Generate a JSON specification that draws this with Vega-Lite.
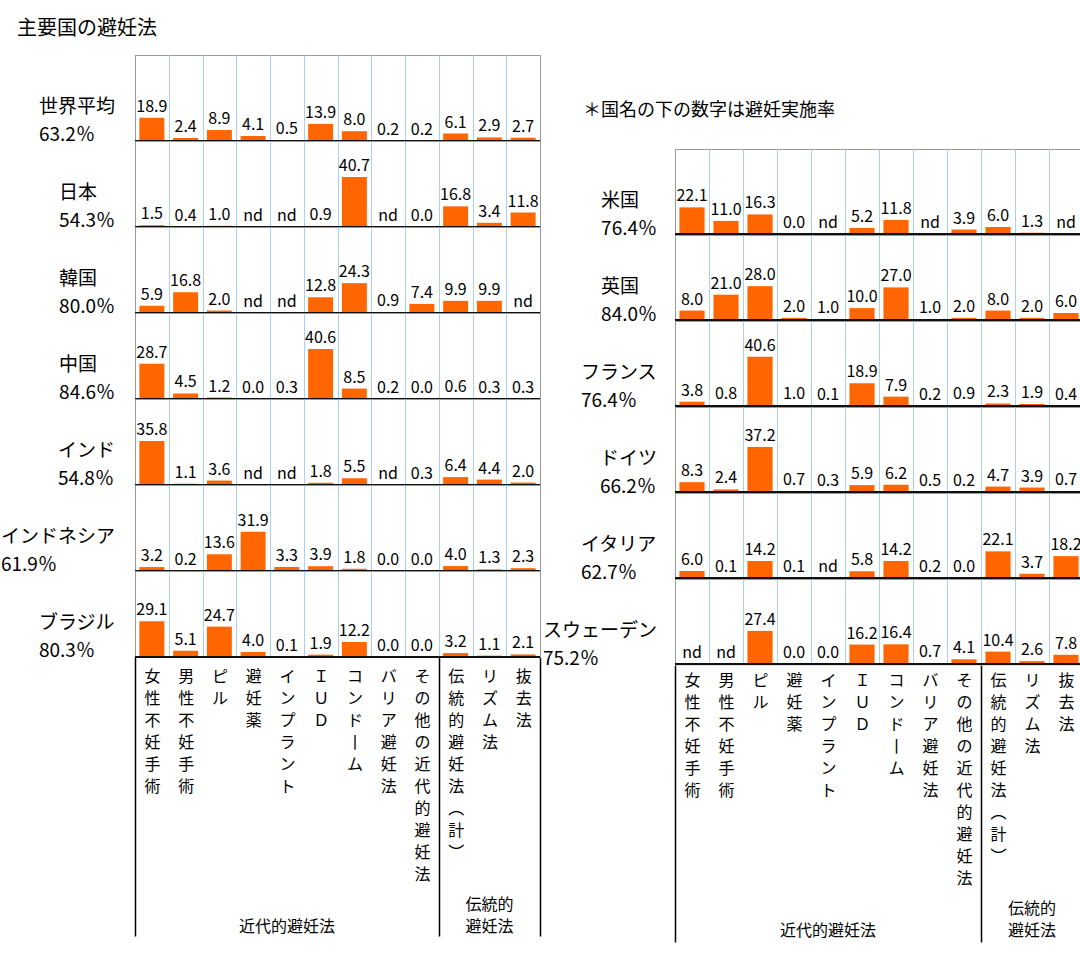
{
  "$schema": "https://vega.github.io/schema/vega-lite/v6.json",
  "padding": {"left": 0, "top": 18, "right": 0, "bottom": 0},
  "title": {"text": "主要国の避妊法", "anchor": "start", "fontSize": 20, "fontWeight": "normal", "offset": 16, "dx": 16, "color": "#000"},
  "datasets": {
    "left": [
      {"c":"世界平均","r":63.2,"m":"女性不妊手術","v":18.9},
      {"c":"世界平均","r":63.2,"m":"男性不妊手術","v":2.4},
      {"c":"世界平均","r":63.2,"m":"ピル","v":8.9},
      {"c":"世界平均","r":63.2,"m":"避妊薬","v":4.1},
      {"c":"世界平均","r":63.2,"m":"インプラント","v":0.5},
      {"c":"世界平均","r":63.2,"m":"ＩＵＤ","v":13.9},
      {"c":"世界平均","r":63.2,"m":"コンドーム","v":8.0},
      {"c":"世界平均","r":63.2,"m":"バリア避妊法","v":0.2},
      {"c":"世界平均","r":63.2,"m":"その他の近代的避妊法","v":0.2},
      {"c":"世界平均","r":63.2,"m":"伝統的避妊法（計）","v":6.1},
      {"c":"世界平均","r":63.2,"m":"リズム法","v":2.9},
      {"c":"世界平均","r":63.2,"m":"抜去法","v":2.7},
      {"c":"日本","r":54.3,"m":"女性不妊手術","v":1.5},
      {"c":"日本","r":54.3,"m":"男性不妊手術","v":0.4},
      {"c":"日本","r":54.3,"m":"ピル","v":1.0},
      {"c":"日本","r":54.3,"m":"避妊薬","v":null},
      {"c":"日本","r":54.3,"m":"インプラント","v":null},
      {"c":"日本","r":54.3,"m":"ＩＵＤ","v":0.9},
      {"c":"日本","r":54.3,"m":"コンドーム","v":40.7},
      {"c":"日本","r":54.3,"m":"バリア避妊法","v":null},
      {"c":"日本","r":54.3,"m":"その他の近代的避妊法","v":0.0},
      {"c":"日本","r":54.3,"m":"伝統的避妊法（計）","v":16.8},
      {"c":"日本","r":54.3,"m":"リズム法","v":3.4},
      {"c":"日本","r":54.3,"m":"抜去法","v":11.8},
      {"c":"韓国","r":80.0,"m":"女性不妊手術","v":5.9},
      {"c":"韓国","r":80.0,"m":"男性不妊手術","v":16.8},
      {"c":"韓国","r":80.0,"m":"ピル","v":2.0},
      {"c":"韓国","r":80.0,"m":"避妊薬","v":null},
      {"c":"韓国","r":80.0,"m":"インプラント","v":null},
      {"c":"韓国","r":80.0,"m":"ＩＵＤ","v":12.8},
      {"c":"韓国","r":80.0,"m":"コンドーム","v":24.3},
      {"c":"韓国","r":80.0,"m":"バリア避妊法","v":0.9},
      {"c":"韓国","r":80.0,"m":"その他の近代的避妊法","v":7.4},
      {"c":"韓国","r":80.0,"m":"伝統的避妊法（計）","v":9.9},
      {"c":"韓国","r":80.0,"m":"リズム法","v":9.9},
      {"c":"韓国","r":80.0,"m":"抜去法","v":null},
      {"c":"中国","r":84.6,"m":"女性不妊手術","v":28.7},
      {"c":"中国","r":84.6,"m":"男性不妊手術","v":4.5},
      {"c":"中国","r":84.6,"m":"ピル","v":1.2},
      {"c":"中国","r":84.6,"m":"避妊薬","v":0.0},
      {"c":"中国","r":84.6,"m":"インプラント","v":0.3},
      {"c":"中国","r":84.6,"m":"ＩＵＤ","v":40.6},
      {"c":"中国","r":84.6,"m":"コンドーム","v":8.5},
      {"c":"中国","r":84.6,"m":"バリア避妊法","v":0.2},
      {"c":"中国","r":84.6,"m":"その他の近代的避妊法","v":0.0},
      {"c":"中国","r":84.6,"m":"伝統的避妊法（計）","v":0.6},
      {"c":"中国","r":84.6,"m":"リズム法","v":0.3},
      {"c":"中国","r":84.6,"m":"抜去法","v":0.3},
      {"c":"インド","r":54.8,"m":"女性不妊手術","v":35.8},
      {"c":"インド","r":54.8,"m":"男性不妊手術","v":1.1},
      {"c":"インド","r":54.8,"m":"ピル","v":3.6},
      {"c":"インド","r":54.8,"m":"避妊薬","v":null},
      {"c":"インド","r":54.8,"m":"インプラント","v":null},
      {"c":"インド","r":54.8,"m":"ＩＵＤ","v":1.8},
      {"c":"インド","r":54.8,"m":"コンドーム","v":5.5},
      {"c":"インド","r":54.8,"m":"バリア避妊法","v":null},
      {"c":"インド","r":54.8,"m":"その他の近代的避妊法","v":0.3},
      {"c":"インド","r":54.8,"m":"伝統的避妊法（計）","v":6.4},
      {"c":"インド","r":54.8,"m":"リズム法","v":4.4},
      {"c":"インド","r":54.8,"m":"抜去法","v":2.0},
      {"c":"インドネシア","r":61.9,"m":"女性不妊手術","v":3.2},
      {"c":"インドネシア","r":61.9,"m":"男性不妊手術","v":0.2},
      {"c":"インドネシア","r":61.9,"m":"ピル","v":13.6},
      {"c":"インドネシア","r":61.9,"m":"避妊薬","v":31.9},
      {"c":"インドネシア","r":61.9,"m":"インプラント","v":3.3},
      {"c":"インドネシア","r":61.9,"m":"ＩＵＤ","v":3.9},
      {"c":"インドネシア","r":61.9,"m":"コンドーム","v":1.8},
      {"c":"インドネシア","r":61.9,"m":"バリア避妊法","v":0.0},
      {"c":"インドネシア","r":61.9,"m":"その他の近代的避妊法","v":0.0},
      {"c":"インドネシア","r":61.9,"m":"伝統的避妊法（計）","v":4.0},
      {"c":"インドネシア","r":61.9,"m":"リズム法","v":1.3},
      {"c":"インドネシア","r":61.9,"m":"抜去法","v":2.3},
      {"c":"ブラジル","r":80.3,"m":"女性不妊手術","v":29.1},
      {"c":"ブラジル","r":80.3,"m":"男性不妊手術","v":5.1},
      {"c":"ブラジル","r":80.3,"m":"ピル","v":24.7},
      {"c":"ブラジル","r":80.3,"m":"避妊薬","v":4.0},
      {"c":"ブラジル","r":80.3,"m":"インプラント","v":0.1},
      {"c":"ブラジル","r":80.3,"m":"ＩＵＤ","v":1.9},
      {"c":"ブラジル","r":80.3,"m":"コンドーム","v":12.2},
      {"c":"ブラジル","r":80.3,"m":"バリア避妊法","v":0.0},
      {"c":"ブラジル","r":80.3,"m":"その他の近代的避妊法","v":0.0},
      {"c":"ブラジル","r":80.3,"m":"伝統的避妊法（計）","v":3.2},
      {"c":"ブラジル","r":80.3,"m":"リズム法","v":1.1},
      {"c":"ブラジル","r":80.3,"m":"抜去法","v":2.1}
    ],
    "right": [
      {"c":"米国","r":76.4,"m":"女性不妊手術","v":22.1},
      {"c":"米国","r":76.4,"m":"男性不妊手術","v":11.0},
      {"c":"米国","r":76.4,"m":"ピル","v":16.3},
      {"c":"米国","r":76.4,"m":"避妊薬","v":0.0},
      {"c":"米国","r":76.4,"m":"インプラント","v":null},
      {"c":"米国","r":76.4,"m":"ＩＵＤ","v":5.2},
      {"c":"米国","r":76.4,"m":"コンドーム","v":11.8},
      {"c":"米国","r":76.4,"m":"バリア避妊法","v":null},
      {"c":"米国","r":76.4,"m":"その他の近代的避妊法","v":3.9},
      {"c":"米国","r":76.4,"m":"伝統的避妊法（計）","v":6.0},
      {"c":"米国","r":76.4,"m":"リズム法","v":1.3},
      {"c":"米国","r":76.4,"m":"抜去法","v":null},
      {"c":"英国","r":84.0,"m":"女性不妊手術","v":8.0},
      {"c":"英国","r":84.0,"m":"男性不妊手術","v":21.0},
      {"c":"英国","r":84.0,"m":"ピル","v":28.0},
      {"c":"英国","r":84.0,"m":"避妊薬","v":2.0},
      {"c":"英国","r":84.0,"m":"インプラント","v":1.0},
      {"c":"英国","r":84.0,"m":"ＩＵＤ","v":10.0},
      {"c":"英国","r":84.0,"m":"コンドーム","v":27.0},
      {"c":"英国","r":84.0,"m":"バリア避妊法","v":1.0},
      {"c":"英国","r":84.0,"m":"その他の近代的避妊法","v":2.0},
      {"c":"英国","r":84.0,"m":"伝統的避妊法（計）","v":8.0},
      {"c":"英国","r":84.0,"m":"リズム法","v":2.0},
      {"c":"英国","r":84.0,"m":"抜去法","v":6.0},
      {"c":"フランス","r":76.4,"m":"女性不妊手術","v":3.8},
      {"c":"フランス","r":76.4,"m":"男性不妊手術","v":0.8},
      {"c":"フランス","r":76.4,"m":"ピル","v":40.6},
      {"c":"フランス","r":76.4,"m":"避妊薬","v":1.0},
      {"c":"フランス","r":76.4,"m":"インプラント","v":0.1},
      {"c":"フランス","r":76.4,"m":"ＩＵＤ","v":18.9},
      {"c":"フランス","r":76.4,"m":"コンドーム","v":7.9},
      {"c":"フランス","r":76.4,"m":"バリア避妊法","v":0.2},
      {"c":"フランス","r":76.4,"m":"その他の近代的避妊法","v":0.9},
      {"c":"フランス","r":76.4,"m":"伝統的避妊法（計）","v":2.3},
      {"c":"フランス","r":76.4,"m":"リズム法","v":1.9},
      {"c":"フランス","r":76.4,"m":"抜去法","v":0.4},
      {"c":"ドイツ","r":66.2,"m":"女性不妊手術","v":8.3},
      {"c":"ドイツ","r":66.2,"m":"男性不妊手術","v":2.4},
      {"c":"ドイツ","r":66.2,"m":"ピル","v":37.2},
      {"c":"ドイツ","r":66.2,"m":"避妊薬","v":0.7},
      {"c":"ドイツ","r":66.2,"m":"インプラント","v":0.3},
      {"c":"ドイツ","r":66.2,"m":"ＩＵＤ","v":5.9},
      {"c":"ドイツ","r":66.2,"m":"コンドーム","v":6.2},
      {"c":"ドイツ","r":66.2,"m":"バリア避妊法","v":0.5},
      {"c":"ドイツ","r":66.2,"m":"その他の近代的避妊法","v":0.2},
      {"c":"ドイツ","r":66.2,"m":"伝統的避妊法（計）","v":4.7},
      {"c":"ドイツ","r":66.2,"m":"リズム法","v":3.9},
      {"c":"ドイツ","r":66.2,"m":"抜去法","v":0.7},
      {"c":"イタリア","r":62.7,"m":"女性不妊手術","v":6.0},
      {"c":"イタリア","r":62.7,"m":"男性不妊手術","v":0.1},
      {"c":"イタリア","r":62.7,"m":"ピル","v":14.2},
      {"c":"イタリア","r":62.7,"m":"避妊薬","v":0.1},
      {"c":"イタリア","r":62.7,"m":"インプラント","v":null},
      {"c":"イタリア","r":62.7,"m":"ＩＵＤ","v":5.8},
      {"c":"イタリア","r":62.7,"m":"コンドーム","v":14.2},
      {"c":"イタリア","r":62.7,"m":"バリア避妊法","v":0.2},
      {"c":"イタリア","r":62.7,"m":"その他の近代的避妊法","v":0.0},
      {"c":"イタリア","r":62.7,"m":"伝統的避妊法（計）","v":22.1},
      {"c":"イタリア","r":62.7,"m":"リズム法","v":3.7},
      {"c":"イタリア","r":62.7,"m":"抜去法","v":18.2},
      {"c":"スウェーデン","r":75.2,"m":"女性不妊手術","v":null},
      {"c":"スウェーデン","r":75.2,"m":"男性不妊手術","v":null},
      {"c":"スウェーデン","r":75.2,"m":"ピル","v":27.4},
      {"c":"スウェーデン","r":75.2,"m":"避妊薬","v":0.0},
      {"c":"スウェーデン","r":75.2,"m":"インプラント","v":0.0},
      {"c":"スウェーデン","r":75.2,"m":"ＩＵＤ","v":16.2},
      {"c":"スウェーデン","r":75.2,"m":"コンドーム","v":16.4},
      {"c":"スウェーデン","r":75.2,"m":"バリア避妊法","v":0.7},
      {"c":"スウェーデン","r":75.2,"m":"その他の近代的避妊法","v":4.1},
      {"c":"スウェーデン","r":75.2,"m":"伝統的避妊法（計）","v":10.4},
      {"c":"スウェーデン","r":75.2,"m":"リズム法","v":2.6},
      {"c":"スウェーデン","r":75.2,"m":"抜去法","v":7.8}
    ]
  },
  "hconcat": [
    {
      "data": {"name": "left"},
      "transform": [{"calculate": "datum.c + '|' + format(datum.r, '.1f') + '％'", "as": "rl"}],
      "facet": {
        "row": {"field": "rl", "type": "nominal", "sort": ["世界平均|63.2％","日本|54.3％","韓国|80.0％","中国|84.6％","インド|54.8％","インドネシア|61.9％","ブラジル|80.3％"],
          "header": {"title": null, "labelExpr": "split(datum.value, '|')", "labelAngle": 0, "labelAlign": "left", "labelAnchor": "middle", "labelBaseline": "top", "labelFontSize": 19, "labelLineHeight": 28, "labelPadding": 20, "labelColor": "#000"}}
      },
      "spacing": 0,
      "bounds": "flush",
      "spec": {
        "width": {"step": 33.75},
        "height": 86,
        "resolve": {"axis": {"x": "independent"}},
        "layer": [
          {
            "mark": {"type": "bar", "color": "#ff6600", "width": {"band": 0.74}},
            "encoding": {
              "x": {"field": "m", "type": "nominal", "sort": ["女性不妊手術","男性不妊手術","ピル","避妊薬","インプラント","ＩＵＤ","コンドーム","バリア避妊法","その他の近代的避妊法","伝統的避妊法（計）","リズム法","抜去法"],
                "scale": {"paddingInner": 0, "paddingOuter": 0},
                "axis": {"title": null, "orient": "bottom", "domain": false, "grid": true,
                  "gridColor": {"condition": {"test": "datum.index === -1 || datum.index === 1", "value": "#999"}, "value": "#a9cff3"}, "gridWidth": 1, "tickBand": "extent", "ticks": true, "tickSize": 279, "tickWidth": 1.5,
                  "tickColor": {"condition": {"test": "datum.index === -1 || datum.index === 1 || datum.value === 'その他の近代的避妊法'", "value": "#000"}, "value": "transparent"},
                  "labelExpr": "split(replace(replace(replace(datum.label, 'ー', '丨'), '（', '︵'), '）', '︶'), '')",
                  "labelAngle": 0, "labelAlign": "center", "labelBaseline": "top", "labelFontSize": 16, "labelLineHeight": 22, "labelPadding": -268, "labelOverlap": false, "labelBound": false, "labelFlush": false, "labelColor": "#000"}},
              "y": {"field": "v", "type": "quantitative", "scale": {"domain": [0, 69.4]}, "axis": null}
            }
          },
          {"mark": {"type": "rule", "color": "#111", "strokeWidth": 1.5}, "encoding": {"y": {"datum": 0}}},
          {
            "transform": [
              {"calculate": "datum.v == null ? 'nd' : format(datum.v, '.1f')", "as": "t"},
              {"calculate": "datum.v == null ? 0 : datum.v", "as": "y0"}
            ],
            "mark": {"type": "text", "baseline": "bottom", "dy": -3, "fontSize": 16, "color": "#000"},
            "encoding": {
              "x": {"field": "m", "type": "nominal", "sort": ["女性不妊手術","男性不妊手術","ピル","避妊薬","インプラント","ＩＵＤ","コンドーム","バリア避妊法","その他の近代的避妊法","伝統的避妊法（計）","リズム法","抜去法"],
                "axis": {"title": null, "orient": "bottom", "domain": false, "grid": false, "ticks": false,
                  "labelExpr": "datum.value === 'インプラント' ? ['　', '近代的避妊法'] : datum.value === 'リズム法' ? ['伝統的', '避妊法'] : ''",
                  "labelAngle": 0, "labelAlign": "center", "labelBaseline": "top", "labelFontSize": 16, "labelLineHeight": 22, "labelPadding": 239, "labelOverlap": false, "labelBound": false, "labelFlush": false, "labelColor": "#000"}},
              "y": {"field": "y0", "type": "quantitative"},
              "text": {"field": "t"}
            }
          }
        ]
      }
    },
    {
      "spacing": 0,
      "vconcat": [
        {
          "data": {"values": [{"note": "＊国名の下の数字は避妊実施率"}]},
          "width": 2,
          "height": 93,
          "view": {"stroke": null},
          "mark": {"type": "text", "align": "left", "baseline": "top", "fontSize": 18, "dx": -93, "color": "#000"},
          "encoding": {"text": {"field": "note"}}
        },
        {
          "data": {"name": "right"},
          "transform": [{"calculate": "datum.c + '|' + format(datum.r, '.1f') + '％'", "as": "rl"}],
          "facet": {
            "row": {"field": "rl", "type": "nominal", "sort": ["米国|76.4％","英国|84.0％","フランス|76.4％","ドイツ|66.2％","イタリア|62.7％","スウェーデン|75.2％"],
              "header": {"title": null, "labelExpr": "split(datum.value, '|')", "labelAngle": 0, "labelAlign": "left", "labelAnchor": "middle", "labelBaseline": "top", "labelFontSize": 19, "labelLineHeight": 28, "labelPadding": 18, "labelColor": "#000"}}
          },
          "spacing": 0,
          "bounds": "flush",
          "spec": {
            "width": {"step": 34},
            "height": 85.3,
            "resolve": {"axis": {"x": "independent"}},
            "layer": [
              {
                "mark": {"type": "bar", "color": "#ff6600", "width": {"band": 0.74}},
                "encoding": {
                  "x": {"field": "m", "type": "nominal", "sort": ["女性不妊手術","男性不妊手術","ピル","避妊薬","インプラント","ＩＵＤ","コンドーム","バリア避妊法","その他の近代的避妊法","伝統的避妊法（計）","リズム法","抜去法"],
                    "scale": {"paddingInner": 0, "paddingOuter": 0},
                    "axis": {"title": null, "orient": "bottom", "domain": false, "grid": true,
                      "gridColor": {"condition": {"test": "datum.index === -1 || datum.index === 1", "value": "#999"}, "value": "#a9cff3"}, "gridWidth": 1, "tickBand": "extent", "ticks": true, "tickSize": 277, "tickWidth": 1.5,
                      "tickColor": {"condition": {"test": "datum.index === -1 || datum.index === 1 || datum.value === 'その他の近代的避妊法'", "value": "#000"}, "value": "transparent"},
                      "labelExpr": "split(replace(replace(replace(datum.label, 'ー', '丨'), '（', '︵'), '）', '︶'), '')",
                      "labelAngle": 0, "labelAlign": "center", "labelBaseline": "top", "labelFontSize": 16, "labelLineHeight": 22, "labelPadding": -270, "labelOverlap": false, "labelBound": false, "labelFlush": false, "labelColor": "#000"}},
                  "y": {"field": "v", "type": "quantitative", "scale": {"domain": [0, 68.5]}, "axis": null}
                }
              },
              {"mark": {"type": "rule", "color": "#111", "strokeWidth": 1.5}, "encoding": {"y": {"datum": 0}}},
              {
                "transform": [
                  {"calculate": "datum.v == null ? 'nd' : format(datum.v, '.1f')", "as": "t"},
                  {"calculate": "datum.v == null ? 0 : datum.v", "as": "y0"}
                ],
                "mark": {"type": "text", "baseline": "bottom", "dy": -3, "fontSize": 16, "color": "#000"},
                "encoding": {
                  "x": {"field": "m", "type": "nominal", "sort": ["女性不妊手術","男性不妊手術","ピル","避妊薬","インプラント","ＩＵＤ","コンドーム","バリア避妊法","その他の近代的避妊法","伝統的避妊法（計）","リズム法","抜去法"],
                    "axis": {"title": null, "orient": "bottom", "domain": false, "grid": false, "ticks": false,
                      "labelExpr": "datum.value === 'インプラント' ? ['　', '近代的避妊法'] : datum.value === 'リズム法' ? ['伝統的', '避妊法'] : ''",
                      "labelAngle": 0, "labelAlign": "center", "labelBaseline": "top", "labelFontSize": 16, "labelLineHeight": 22, "labelPadding": 235, "labelOverlap": false, "labelBound": false, "labelFlush": false, "labelColor": "#000"}},
                  "y": {"field": "y0", "type": "quantitative"},
                  "text": {"field": "t"}
                }
              }
            ]
          }
        }
      ]
    }
  ],
  "spacing": 0,
  "config": {
    "font": "Noto Sans CJK JP",
    "view": {"stroke": "#999", "strokeWidth": 1},
    "background": "#ffffff"
  }
}
